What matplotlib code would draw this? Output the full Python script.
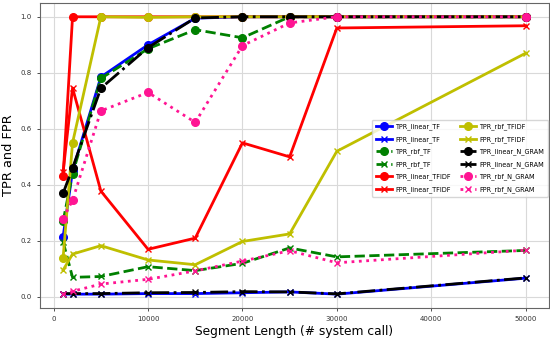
import matplotlib
matplotlib.use("Agg")
import matplotlib.pyplot as plt

seg_len = [1000, 2000, 5000, 10000, 15000, 20000, 25000, 30000, 50000]

tpr_linear_tf = [0.215, 0.45, 0.785, 0.90, 0.995, 1.0, 1.0, 1.0, 1.0]
fpr_linear_tf = [0.010, 0.010, 0.010, 0.012, 0.012, 0.015, 0.018, 0.010, 0.067]
tpr_rbf_tf = [0.27, 0.44, 0.78, 0.886, 0.954, 0.925, 1.0, 1.0, 1.0]
fpr_rbf_tf = [0.197, 0.07, 0.073, 0.108, 0.094, 0.12, 0.175, 0.143, 0.166]
tpr_linear_tfidf = [0.43, 1.0, 1.0, 1.0, 1.0, 1.0, 1.0, 1.0, 1.0]
fpr_linear_tfidf = [0.447, 0.746, 0.378, 0.17, 0.21, 0.55, 0.50, 0.96, 0.968]
tpr_rbf_tfidf = [0.14, 0.55, 1.0, 0.998, 1.0, 1.0, 1.0, 1.0, 1.0]
fpr_rbf_tfidf = [0.096, 0.153, 0.183, 0.132, 0.115, 0.198, 0.225, 0.52, 0.87]
tpr_linear_ngram = [0.37, 0.46, 0.745, 0.89, 0.996, 1.0, 1.0, 1.0, 1.0]
fpr_linear_ngram = [0.012, 0.012, 0.012, 0.015, 0.016, 0.019, 0.018, 0.011, 0.068]
tpr_rbf_ngram = [0.28, 0.345, 0.664, 0.73, 0.623, 0.897, 0.978, 1.0, 1.0]
fpr_rbf_ngram = [0.010, 0.020, 0.046, 0.063, 0.093, 0.128, 0.165, 0.122, 0.167]

series = [
    ("TPR_linear_TF", tpr_linear_tf, "blue", "-", "o"),
    ("FPR_linear_TF", fpr_linear_tf, "blue", "-", "x"),
    ("TPR_rbf_TF", tpr_rbf_tf, "green", "--", "o"),
    ("FPR_rbf_TF", fpr_rbf_tf, "green", "--", "x"),
    ("TPR_linear_TFIDF", tpr_linear_tfidf, "red", "-", "o"),
    ("FPR_linear_TFIDF", fpr_linear_tfidf, "red", "-", "x"),
    ("TPR_rbf_TFIDF", tpr_rbf_tfidf, "y", "-", "o"),
    ("FPR_rbf_TFIDF", fpr_rbf_tfidf, "y", "-", "x"),
    ("TPR_linear_N_GRAM", tpr_linear_ngram, "black", "-.", "o"),
    ("FPR_linear_N_GRAM", fpr_linear_ngram, "black", "-.", "x"),
    ("TPR_rbf_N_GRAM", tpr_rbf_ngram, "deeppink", ":", "o"),
    ("FPR_rbf_N_GRAM", fpr_rbf_ngram, "deeppink", ":", "x"),
]

fig = plt.figure(figsize=(5.5, 3.39), dpi=100)
ax = fig.add_axes([0.0727, 0.0914, 0.925, 0.9])

for label, vals, color, ls, mk in series:
    ax.plot(seg_len, vals, color=color, linestyle=ls, marker=mk, label=label,
            linewidth=2, markersize=5.5 if mk == "o" else 5, markeredgewidth=1.0)

ax.grid(True, color="#d9d9d9", linewidth=0.8)
ax.set_axisbelow(True)
ax.tick_params(labelsize=5, colors="#333333", length=2.5, width=0.6)
for s in ax.spines.values():
    s.set_color("#666666")
    s.set_linewidth(0.8)
ax.set_xlabel("Segment Length (# system call)", fontsize=8.8, labelpad=2)
ax.set_ylabel("TPR and FPR", fontsize=9.3, labelpad=4)
ax.set_xlim(-1450, 52450)
ax.set_ylim(-0.0395, 1.0495)
ax.legend(ncol=2, fontsize=4.7, loc="upper right", bbox_to_anchor=(1.0, 0.62),
          borderaxespad=0.1, framealpha=0.8, handlelength=2.45, handletextpad=0.5,
          borderpad=0.6, labelspacing=0.88, columnspacing=1.4, edgecolor="#cccccc")

fig.savefig("out.png", dpi=100)
